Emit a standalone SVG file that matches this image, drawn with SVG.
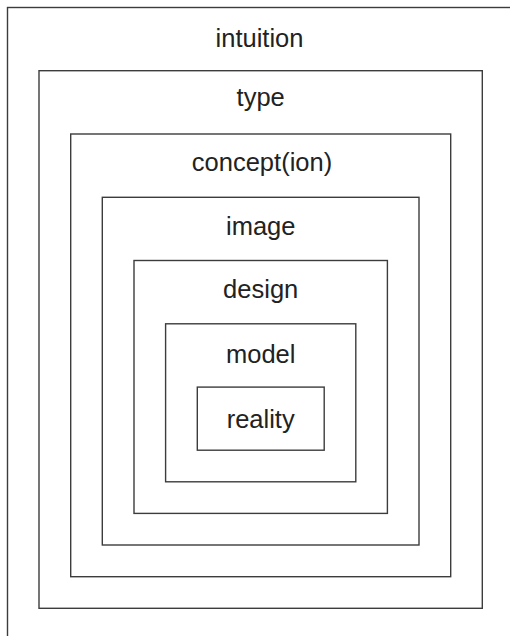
<svg xmlns="http://www.w3.org/2000/svg" width="510" height="636" viewBox="0 0 510 636">
<style>
.box{fill:none;stroke:#3c3c3c;stroke-width:1.4}
.lbl{font-family:"Liberation Sans",Arial,sans-serif;font-size:25.5px;fill:#222;text-anchor:middle}
</style>
<rect width="510" height="636" fill="#fff"/>
<g id="intuition"><rect class="box" x="7.5" y="7.5" width="506.4" height="640"/><text class="lbl" x="259.5" y="47.3">intuition</text></g>
<g id="type"><rect class="box" x="39" y="70.7" width="443.3" height="537.6"/><text class="lbl" x="260.7" y="106">type</text></g>
<g id="concept"><rect class="box" x="70.7" y="134" width="380" height="442.7"/><text class="lbl" x="262" y="171.3">concept(ion)</text></g>
<g id="image"><rect class="box" x="102.3" y="197.3" width="316.7" height="347.7"/><text class="lbl" x="260.7" y="234.7">image</text></g>
<g id="design"><rect class="box" x="134" y="260.5" width="253.4" height="252.9"/><text class="lbl" x="260.7" y="297.7">design</text></g>
<g id="model"><rect class="box" x="165.6" y="323.8" width="190.2" height="158"/><text class="lbl" x="260.7" y="362.5">model</text></g>
<g id="reality"><rect class="box" x="197.3" y="387.1" width="126.9" height="63.1"/><text class="lbl" x="260.7" y="428.3">reality</text></g>
<g id="connectors"/>
</svg>
